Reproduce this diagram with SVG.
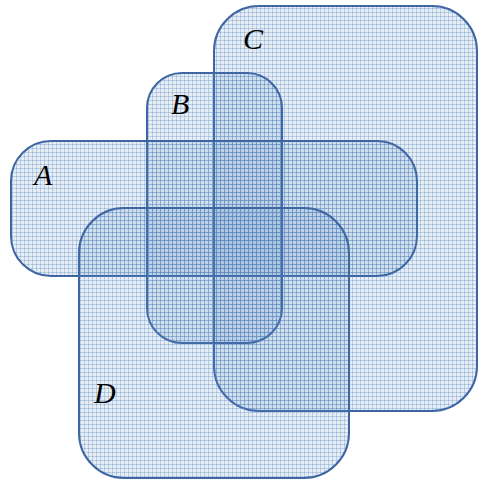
<svg xmlns="http://www.w3.org/2000/svg" width="479" height="481" viewBox="0 0 479 481">
<defs>
<pattern id="grid" width="4" height="4" patternUnits="userSpaceOnUse">
<rect width="4" height="4" fill="#4f81bd" fill-opacity="0.14"/>
<rect x="0" y="0" width="1" height="4" fill="#4f81bd" fill-opacity="0.3"/>
<rect x="0" y="0" width="4" height="1" fill="#4f81bd" fill-opacity="0.3"/>
</pattern>
</defs>
<style>
.set{fill:url(#grid);stroke:#3d66a3;stroke-width:2}
.lbl{font-family:"Liberation Serif",serif;font-style:italic;font-size:30px;fill:#000}
</style>
<rect width="479" height="481" fill="#fff"/>
<g id="C"><rect class="set" x="214" y="6" width="263" height="405" rx="45"/><text class="lbl" x="243" y="49">C</text></g>
<g id="B"><rect class="set" x="147" y="73" width="135" height="270" rx="35"/><text class="lbl" x="171" y="114">B</text></g>
<g id="A"><rect class="set" x="11" y="141" width="406" height="135" rx="40"/><text class="lbl" x="34" y="185">A</text></g>
<g id="D"><rect class="set" x="79" y="208" width="270" height="270" rx="45"/><text class="lbl" x="94" y="403">D</text></g>
<g id="connectors"></g>
</svg>
